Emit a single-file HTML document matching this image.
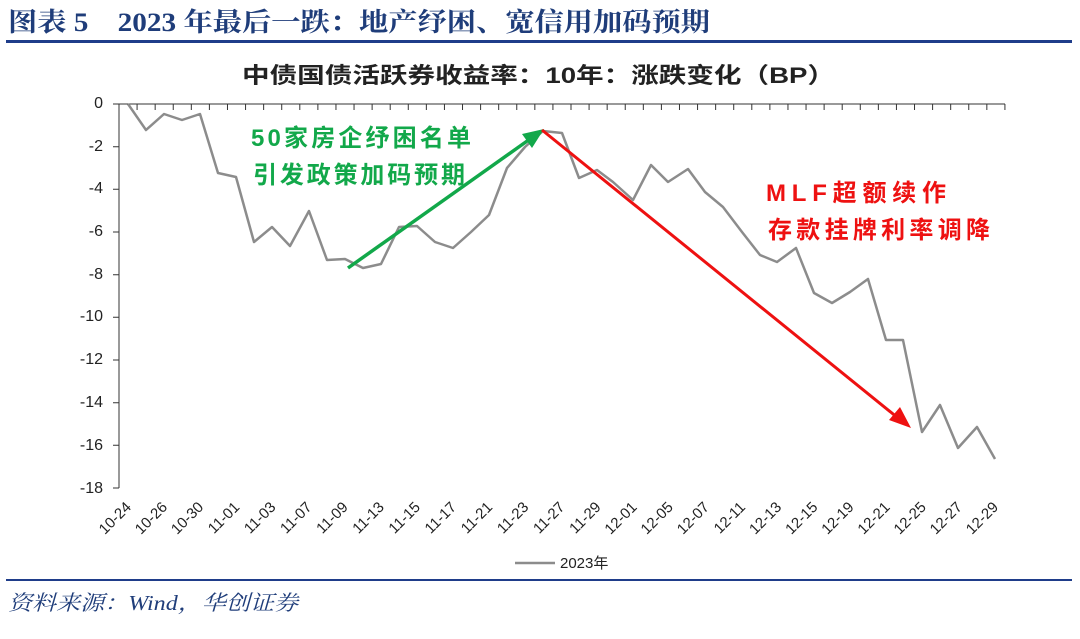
<!DOCTYPE html>
<html><head><meta charset="utf-8"><style>
body{margin:0;background:#fff;width:1080px;height:634px;overflow:hidden}
</style></head><body>
<svg width="1080" height="634" viewBox="0 0 1080 634" xmlns="http://www.w3.org/2000/svg">
<text x="8" y="31" textLength="702" lengthAdjust="spacingAndGlyphs" font-family="Liberation Serif, Noto Serif CJK SC, serif" font-weight="bold" font-size="26" fill="#1f3d7a">图表 5　2023 年最后一跌：地产纾困、宽信用加码预期</text>
<line x1="6" y1="41.5" x2="1072" y2="41.5" stroke="#1f3d8a" stroke-width="3"/>
<text x="242" y="83" textLength="593" lengthAdjust="spacingAndGlyphs" font-family="Liberation Sans, Noto Sans CJK SC, sans-serif" font-weight="bold" font-size="22" fill="#222">中债国债活跃券收益率：10年：涨跌变化（BP）</text>
<g font-family="Liberation Sans, sans-serif" font-size="16" fill="#222" text-anchor="end">
<text x="103" y="108">0</text><text x="103" y="151">-2</text><text x="103" y="193">-4</text><text x="103" y="236">-6</text><text x="103" y="279">-8</text><text x="103" y="321">-10</text><text x="103" y="364">-12</text><text x="103" y="407">-14</text><text x="103" y="450">-16</text><text x="103" y="493">-18</text>
</g>
<g stroke="#333" stroke-width="1">
<line x1="119" y1="104" x2="119" y2="488"/>
<line x1="119" y1="104" x2="1005" y2="104"/>
<path d="M113 104H119M113 146.7H119M113 189.3H119M113 232H119M113 274.7H119M113 317.3H119M113 360H119M113 402.7H119M113 445.3H119M113 488H119"/>
</g>
<g id="xt" stroke="#333" stroke-width="1"></g>
<polyline fill="none" stroke="#8c8c8c" stroke-width="2.5" stroke-linejoin="round" points="128,104 146,130 164,114 182,120 200,114 218,173 236,177 254,242 272,227 290,246 309,211 327,260 345,259 363,268 381,264 399,227 417,226 435,242 453,248 471,232 489,215 507,168 525,147 543,131 562,133 579,178 597,170 613,182 633,200 651,165 668,182 688,169 705,192 723,207 742,232 760,255 777,262 796,248 814,293 832,303 850,292 868,279 886,340 903,340 922,432 940,405 958,448 977,427 995,459"/>
<line x1="348" y1="268" x2="530" y2="139" stroke="#12a84a" stroke-width="3.5"/>
<polygon points="544,129 522,134 532,148" fill="#12a84a"/>
<line x1="542" y1="130" x2="898" y2="418" stroke="#ee1111" stroke-width="3"/>
<polygon points="911,428 889,420 900,407" fill="#ee1111"/>
<g font-family="Liberation Sans, Noto Sans CJK SC, sans-serif" font-weight="bold" font-size="24" lengthAdjust="spacingAndGlyphs">
<text x="251" y="146" textLength="220" fill="#12a84a">50家房企纾困名单</text>
<text x="253" y="183" textLength="212" fill="#12a84a">引发政策加码预期</text>
<text x="766" y="201" textLength="180" fill="#ee1111">MLF超额续作</text>
<text x="768" y="238" textLength="222" fill="#ee1111">存款挂牌利率调降</text>
</g>
<g id="xl" font-family="Liberation Sans, sans-serif" font-size="15" fill="#222" text-anchor="end"></g>
<line x1="515" y1="563" x2="555" y2="563" stroke="#8c8c8c" stroke-width="2.5"/>
<text x="560" y="568" font-family="Liberation Sans, Noto Sans CJK SC, sans-serif" font-size="15" fill="#222">2023年</text>
<line x1="6" y1="580" x2="1072" y2="580" stroke="#1f3d8a" stroke-width="2"/>
<text x="8" y="610" textLength="290" lengthAdjust="spacingAndGlyphs" font-family="Liberation Serif, Noto Serif CJK SC, serif" font-style="italic" font-size="21" fill="#1f3d7a">资料来源：Wind，华创证券</text>
</svg>
<script>
var ns="http://www.w3.org/2000/svg";
var xt=document.getElementById('xt');
for(var i=0;i<=49;i++){var x=119+i*18.08;var l=document.createElementNS(ns,'line');l.setAttribute('x1',x);l.setAttribute('x2',x);l.setAttribute('y1',104);l.setAttribute('y2',110);xt.appendChild(l);}
var labs=["10-24","10-26","10-30","11-01","11-03","11-07","11-09","11-13","11-15","11-17","11-21","11-23","11-27","11-29","12-01","12-05","12-07","12-11","12-13","12-15","12-19","12-21","12-25","12-27","12-29"];
var xl=document.getElementById('xl');
labs.forEach(function(s,k){var x=128+k*36.13+4;var t=document.createElementNS(ns,'text');t.setAttribute('x',x);t.setAttribute('y',508);t.setAttribute('transform','rotate(-45 '+x+' 508)');t.textContent=s;xl.appendChild(t);});
</script>
</body></html>
